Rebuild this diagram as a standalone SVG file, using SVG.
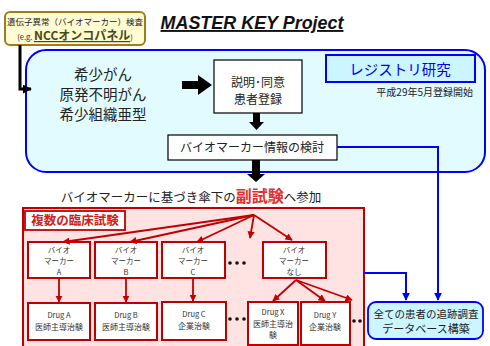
<svg xmlns="http://www.w3.org/2000/svg" width="490" height="346" viewBox="0 0 490 346">
<defs>
<marker id="ar" viewBox="0 0 10 10" refX="9" refY="5" markerWidth="4" markerHeight="4" orient="auto"><path d="M0,0 L10,5 L0,10 z" fill="#c00000"/></marker>
<marker id="ab" viewBox="0 0 10 10" refX="9" refY="5" markerWidth="4" markerHeight="4" orient="auto"><path d="M0,0 L10,5 L0,10 z" fill="#0000ff"/></marker>
<marker id="ak" viewBox="0 0 10 10" refX="9" refY="5" markerWidth="3" markerHeight="3" orient="auto"><path d="M0,0 L10,5 L0,10 z" fill="#000"/></marker>
</defs>
<style>
text{font-family:"Noto Sans CJK JP","Noto Sans",sans-serif;text-anchor:middle;fill:#222}
.m{font-size:14.5px}
.s{font-size:7.5px;fill:#333}
.d{font-size:8px;fill:#333}
.wb{fill:#fff;stroke:#000;stroke-width:1.2}
.rb{fill:#fff;stroke:#c00000;stroke-width:2}
.ra{stroke:#c00000;stroke-width:1.8;fill:none;marker-end:url(#ar)}
.bl{stroke:#0000ff;stroke-width:2;fill:none}
.dot{fill:#111}
</style>
<g id="gene">
<rect x="5" y="12" width="140" height="33" rx="5" fill="#fffbd2" stroke="#a07c1c" stroke-width="2"/>
<text x="75" y="25" style="font-size:8.5px">遺伝子異常（バイオマーカー）検査</text>
<text x="75" y="40"><tspan style="font-size:7.5px">(e.g. </tspan><tspan style="font-size:12px;font-weight:bold;fill:#4a4a10;text-decoration:underline">NCCオンコパネル</tspan><tspan style="font-size:7.5px">)</tspan></text>
</g>
<g id="title">
<text x="252" y="29" textLength="183" lengthAdjust="spacingAndGlyphs" style="font-family:'Liberation Sans',Arial,sans-serif;font-size:19px;font-weight:bold;font-style:italic;text-decoration:underline;fill:#111">MASTER KEY Project</text>
</g>
<g id="registry-area">
<rect x="26" y="50" width="459" height="122" rx="20" fill="#e2fbff" stroke="#0000ff" stroke-width="2"/>
</g>
<g id="cancers">
<text class="m" x="103" y="80">希少がん</text>
<text class="m" x="103" y="100">原発不明がん</text>
<text class="m" x="103" y="120">希少組織亜型</text>
</g>
<g id="consent">
<rect class="wb" x="214" y="60" width="88" height="53"/>
<text x="258" y="87" style="font-size:12px">説明･同意</text>
<text x="258" y="104" style="font-size:12px">患者登録</text>
</g>
<g id="registry-label">
<rect x="326" y="55" width="149" height="27" fill="#ccf6ff" stroke="#0000ff" stroke-width="2"/>
<text x="400" y="75" style="font-size:14.5px;fill:#0000ee">レジストリ研究</text>
<text x="473" y="96" style="font-size:10px;text-anchor:end">平成29年5月登録開始</text>
</g>
<g id="biomarker-review">
<rect class="wb" x="168" y="135" width="169" height="25"/>
<text x="252" y="152" style="font-size:12px">バイオマーカー情報の検討</text>
</g>
<g id="join-text">
<text x="191" y="202" style="font-size:12.5px"><tspan>バイオマーカーに基づき傘下の</tspan><tspan style="font-size:16px;font-weight:bold;fill:#e03030">副試験</tspan><tspan>へ参加</tspan></text>
</g>
<g id="trials-area">
<rect x="23" y="208" width="341" height="145" fill="#ffe2e2" stroke="#c00000" stroke-width="2"/>
<rect x="25" y="211" width="100" height="19" fill="#fff" stroke="#c00000" stroke-width="1.8"/>
<text x="75" y="225" style="font-size:12.5px;font-weight:bold;fill:#d02020">複数の臨床試験</text>
</g>
<g id="marker-a"><rect class="rb" x="28" y="242" width="62" height="36"/><text class="s" x="59" y="253">バイオ</text><text class="s" x="59" y="264">マーカー</text><text class="s" x="59" y="275">A</text></g>
<g id="marker-b"><rect class="rb" x="95" y="242" width="62" height="36"/><text class="s" x="126" y="253">バイオ</text><text class="s" x="126" y="264">マーカー</text><text class="s" x="126" y="275">B</text></g>
<g id="marker-c"><rect class="rb" x="162" y="242" width="63" height="36"/><text class="s" x="193" y="253">バイオ</text><text class="s" x="193" y="264">マーカー</text><text class="s" x="193" y="275">C</text></g>
<g id="marker-none"><rect class="rb" x="263" y="242" width="63" height="36"/><text class="s" x="294" y="253">バイオ</text><text class="s" x="294" y="264">マーカー</text><text class="s" x="294" y="275">なし</text></g>
<g id="drug-a"><rect class="rb" x="28" y="303" width="62" height="37"/><text class="s" x="59" y="318">Drug A</text><text class="d" x="59" y="330">医師主導治験</text></g>
<g id="drug-b"><rect class="rb" x="95" y="303" width="62" height="37"/><text class="s" x="126" y="318">Drug B</text><text class="d" x="126" y="330">医師主導治験</text></g>
<g id="drug-c"><rect class="rb" x="162" y="302" width="64" height="38"/><text class="s" x="194" y="317">Drug C</text><text class="d" x="194" y="329">企業治験</text></g>
<g id="drug-x"><rect class="rb" x="248" y="302" width="50" height="43"/><text class="s" x="273" y="315">Drug X</text><text class="d" x="273" y="327">医師主導治</text><text class="d" x="273" y="338">験</text></g>
<g id="drug-y"><rect class="rb" x="301" y="302" width="49" height="43"/><text class="s" x="325" y="318">Drug Y</text><text class="d" x="325" y="330">企業治験</text></g>
<g id="dots">
<circle class="dot" cx="230" cy="263" r="1.8"/><circle class="dot" cx="237" cy="263" r="1.8"/><circle class="dot" cx="244" cy="263" r="1.8"/>
<circle class="dot" cx="230" cy="319" r="1.8"/><circle class="dot" cx="237" cy="319" r="1.8"/><circle class="dot" cx="244" cy="319" r="1.8"/>
<circle class="dot" cx="354" cy="321" r="1.8"/><circle class="dot" cx="360" cy="321" r="1.8"/>
</g>
<g id="database">
<rect x="368" y="302" width="115" height="37" rx="8" fill="#ccf6ff" stroke="#0000ff" stroke-width="1.8"/>
<text x="426" y="318" style="font-size:10.5px">全ての患者の追跡調査</text>
<text x="426" y="333" style="font-size:11px">データベース構築</text>
</g>
<g id="connectors">
<polyline points="20,45 20,89 31,89" fill="none" stroke="#000" stroke-width="3" marker-end="url(#ak)"/>
<polygon points="182,81 198,81 198,75 212,85 198,95 198,89 182,89" fill="#000"/>
<polygon points="253,113 260,113 260,122 264,122 256.5,130 249,122 253,122" fill="#000"/>
<polygon points="252,160 260,160 260,174 265,174 256,182 247,174 252,174" fill="#000"/>
<polyline class="bl" points="337,147 438,147 438,300" marker-end="url(#ab)"/>
<polyline class="bl" points="364,273 406,273 406,300" marker-end="url(#ab)"/>
<path class="ra" d="M254,215 L63,242"/>
<path class="ra" d="M254,215 L130,242"/>
<path class="ra" d="M254,215 L197,242"/>
<path class="ra" d="M254,215 L250,238"/>
<path class="ra" d="M254,215 L292,240"/>
<path class="ra" d="M59,278 L59,302"/>
<path class="ra" d="M126,278 L126,302"/>
<path class="ra" d="M193,278 L193,301"/>
<path class="ra" d="M296,280 L273,301"/>
<path class="ra" d="M296,280 L325,301"/>
<path class="ra" d="M296,280 L352,300"/>
</g>
</svg>
